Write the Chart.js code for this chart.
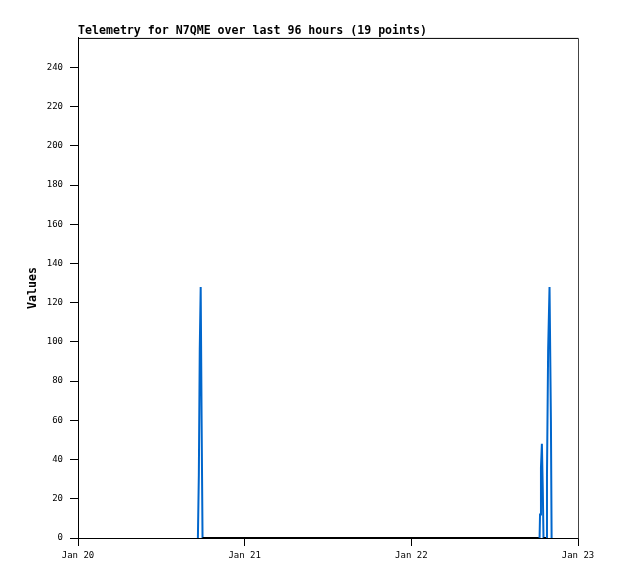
<!DOCTYPE html>
<html>
<head>
<meta charset="utf-8">
<script src="https://cdn.jsdelivr.net/npm/chart.js@4/dist/chart.umd.min.js"></script>
<style>
  html, body { margin: 0; padding: 0; background: #fff; }
  #wrap { width: 618px; height: 579px; }
</style>
</head>
<body>
<div id="wrap"><canvas id="telemChart" width="618" height="579"></canvas></div>
<script>
// hours since Jan 20 00:00
const hours = [17.267, 17.4, 17.533, 17.667, 17.8, 17.933, 18.167,
               66.467, 66.533, 66.667, 66.8, 66.933, 67.033, 67.433,
               67.533, 67.7, 67.9, 68.1, 68.2];
const values = [0, 32, 96, 128, 60, 0, 0,
                0, 12, 36, 48, 24, 0, 0,
                32, 96, 128, 60, 0];
const xTickHours = [0, 24, 48, 72];
const xTickLabels = ['Jan 20', 'Jan 21', 'Jan 22', 'Jan 23'];
const yTicks = [0, 20, 40, 60, 80, 100, 120, 140, 160, 180, 200, 220, 240];

const points = hours.map((h, i) => ({ x: h, y: values[i] }));
const mono = 'DejaVu Sans Mono';

// frame around the plot area
const framePlugin = {
    id: 'frame',
    afterDatasetsDraw(chart) {
        const a = chart.chartArea;
        const ctx = chart.ctx;
        ctx.save();
        ctx.strokeStyle = '#000';
        ctx.lineWidth = 1;
        ctx.beginPath();
        ctx.moveTo(a.left + 0.5, a.bottom + 0.5);
        ctx.lineTo(a.left + 0.5, a.top + 0.5);
        ctx.lineTo(a.right + 0.5, a.top + 0.5);
        ctx.stroke();
        ctx.strokeStyle = '#444';
        ctx.beginPath();
        ctx.moveTo(a.right + 0.5, a.top + 0.5);
        ctx.lineTo(a.right + 0.5, a.bottom + 0.5);
        ctx.stroke();
        ctx.restore();
    }
};

new Chart(document.getElementById('telemChart'), {
    type: 'line',
    data: {
        datasets: [{
            data: points,
            borderColor: '#0066cc',
            borderWidth: 2,
            pointRadius: 0,
            tension: 0,
            segment: {
                // flat stretch at zero shows up dark
                borderColor: c => (c.p0.parsed.y === 0 && c.p1.parsed.y === 0) ? '#000' : undefined
            }
        }]
    },
    options: {
        responsive: false,
        animation: false,
        layout: { padding: { left: 26, right: 40, top: 0, bottom: 0 } },
        plugins: {
            legend: { display: false },
            tooltip: { enabled: false },
            title: {
                display: true,
                text: 'Telemetry for N7QME over last 96 hours (19 points)',
                align: 'start',
                fullSize: false,
                color: '#000',
                font: { family: mono, size: 11.6, weight: 'bold' },
                padding: { top: 24, bottom: 0 }
            }
        },
        scales: {
            x: {
                type: 'linear',
                min: 0,
                max: 72,
                afterBuildTicks: axis => { axis.ticks = xTickHours.map(v => ({ value: v })); },
                afterFit: axis => { axis.height = 41; },
                ticks: {
                    color: '#000',
                    font: { family: mono, size: 9 },
                    padding: 4,
                    maxRotation: 0,
                    autoSkip: false,
                    callback: v => xTickLabels[xTickHours.indexOf(v)]
                },
                grid: { drawOnChartArea: false, tickLength: 8, color: '#000' },
                border: { color: '#000' }
            },
            y: {
                min: 0,
                max: 255,
                afterBuildTicks: axis => { axis.ticks = yTicks.map(v => ({ value: v })); },
                afterFit: axis => { axis.width = 52; },
                title: {
                    display: true,
                    text: 'Values',
                    color: '#000',
                    font: { family: mono, size: 11.6, weight: 'bold' },
                    padding: { top: 0, bottom: 0 }
                },
                ticks: {
                    color: '#000',
                    font: { family: mono, size: 9 },
                    padding: 7
                },
                grid: { drawOnChartArea: false, tickLength: 8, color: '#000' },
                border: { color: '#000' }
            }
        }
    },
    plugins: [framePlugin]
});
</script>
</body>
</html>
